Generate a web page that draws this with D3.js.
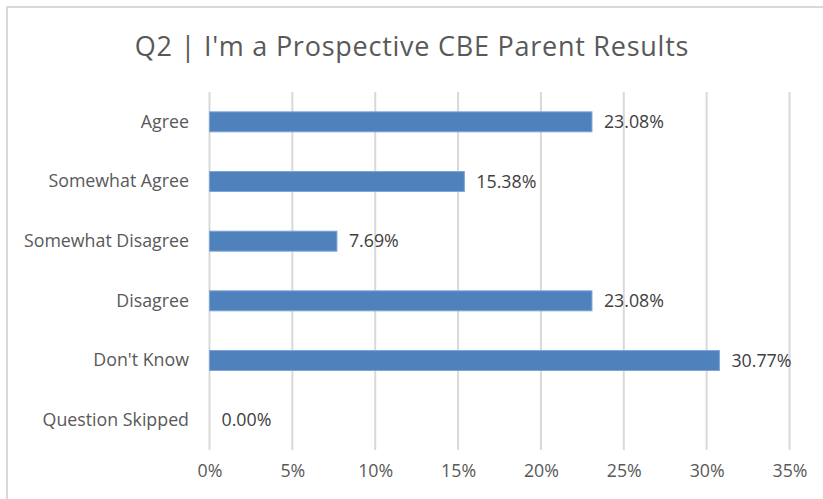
<!DOCTYPE html>
<html>
<head>
<meta charset="utf-8">
<script src="https://cdn.jsdelivr.net/npm/d3@7"></script>
<style>
  html, body { margin: 0; padding: 0; background: #fff; }
  svg { display: block; font-family: "Open Sans", "Noto Sans", sans-serif; }
</style>
</head>
<body>
<svg id="chart" width="823" height="499"></svg>
<script>
// Survey answers and their shares (percent)
const categories = ["Agree", "Somewhat Agree", "Somewhat Disagree", "Disagree", "Don't Know", "Question Skipped"];
const values = [23.08, 15.38, 7.69, 23.08, 30.77, 0.00];
const tickValues = [0, 5, 10, 15, 20, 25, 30, 35];
const title = "Q2 | I'm a Prospective CBE Parent Results";

const svg = d3.select("#chart");
const W = 823, H = 499;
const plot = { left: 209.5, right: 789.5, top: 92, bottom: 450 };
const labelSize = 17.8;

// Chart area frame (top and left edges visible)
svg.append("path")
  .attr("d", `M7,${H} L7,7 L${W},7`)
  .attr("fill", "none")
  .attr("stroke", "#d9d9d9")
  .attr("stroke-width", 2);

svg.append("text")
  .attr("x", 412)
  .attr("y", 56)
  .attr("text-anchor", "middle")
  .attr("font-size", 27)
  .attr("letter-spacing", 0.75)
  .attr("fill", "#595959")
  .text(title);

const x = d3.scaleLinear().domain([0, 35]).range([plot.left, plot.right]);
const y = d3.scaleBand().domain(categories).range([plot.top, plot.bottom]).paddingInner(0.665).paddingOuter(0.3325);

// Vertical gridlines
svg.append("g")
  .selectAll("line")
  .data(tickValues)
  .join("line")
  .attr("x1", d => x(d)).attr("x2", d => x(d))
  .attr("y1", plot.top).attr("y2", plot.bottom)
  .attr("stroke", "#d9d9d9")
  .attr("stroke-width", 2);

// X axis labels
const xAxis = d3.axisBottom(x).tickValues(tickValues).tickFormat(d => d + "%").tickSize(0).tickPadding(0);
const gx = svg.append("g").attr("transform", `translate(0,${plot.bottom})`).call(xAxis);
gx.select(".domain").remove();
gx.selectAll("text")
  .attr("y", 27)
  .attr("dy", 0)
  .attr("font-size", labelSize)
  .attr("font-family", "Open Sans, sans-serif")
  .attr("fill", "#595959");

// Y axis labels
const yAxis = d3.axisLeft(y).tickSize(0).tickPadding(0);
const gy = svg.append("g").attr("transform", `translate(189,0)`).call(yAxis);
gy.select(".domain").remove();
gy.selectAll("text")
  .attr("font-size", labelSize)
  .attr("font-family", "Open Sans, sans-serif")
  .attr("fill", "#595959");

// Bars
svg.append("g")
  .selectAll("rect")
  .data(categories)
  .join("rect")
  .attr("x", x(0))
  .attr("y", d => y(d))
  .attr("width", (d, i) => x(values[i]) - x(0))
  .attr("height", y.bandwidth())
  .attr("fill", "#4f81bd")
  .attr("stroke", "#7ea6d8")
  .attr("stroke-width", 1);

// Value labels
svg.append("g")
  .selectAll("text")
  .data(categories)
  .join("text")
  .attr("x", (d, i) => x(values[i]) + 12)
  .attr("y", d => y(d) + y.bandwidth() / 2)
  .attr("dy", "0.35em")
  .attr("font-size", labelSize)
  .attr("fill", "#404040")
  .text((d, i) => values[i].toFixed(2) + "%");
</script>
</body>
</html>
